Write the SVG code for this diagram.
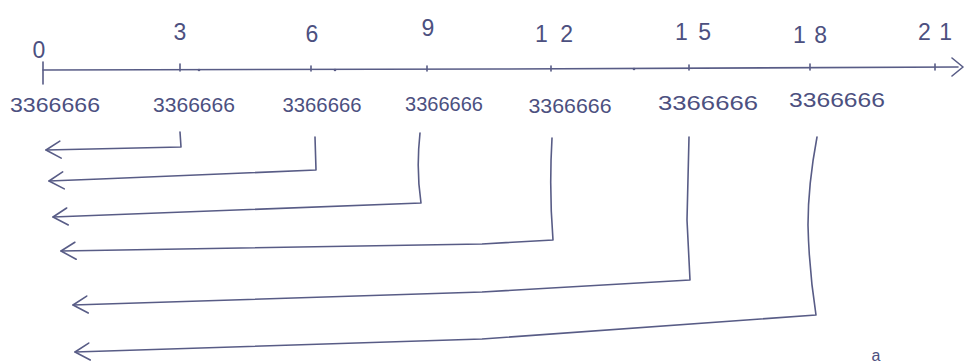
<svg xmlns="http://www.w3.org/2000/svg" width="964" height="363" viewBox="0 0 964 363">
<style>
.pen{fill:none;stroke:#585c86;stroke-width:1.6;stroke-linecap:round;stroke-linejoin:round}
.lbl{font-family:"Liberation Sans","DejaVu Sans",sans-serif;font-size:21px;fill:#4c5080;text-anchor:middle}
.top{font-size:23px}
.dot{fill:#585c86}
</style>
<defs>
<marker id="head" viewBox="0 0 17 19" refX="16" refY="9.5" markerWidth="17" markerHeight="19" markerUnits="userSpaceOnUse" orient="auto">
<path d="M1,1 L16,9.5 L2,18" fill="none" stroke="#585c86" stroke-width="1.6" stroke-linecap="round" stroke-linejoin="round"/>
</marker>
</defs>
<rect width="964" height="363" fill="#ffffff"/>
<g id="axis">
<path class="pen" d="M43,70 L500,69 L958,67"/>
<path class="pen" d="M43,62 L43,84"/>
<path class="pen" d="M952,58 L963,67 L952,76"/>
<path class="pen" d="M180,64 L180,71"/>
<path class="pen" d="M311,66 L311,71"/>
<path class="pen" d="M427,66 L427,71"/>
<path class="pen" d="M551,66 L551,71"/>
<path class="pen" d="M689,65 L689,70"/>
<path class="pen" d="M810,64 L810,70"/>
<path class="pen" d="M935,64 L935,70"/>
<circle class="dot" cx="199" cy="70" r="1.3"/>
<circle class="dot" cx="335" cy="70" r="1.3"/>
<circle class="dot" cx="634" cy="69" r="1.3"/>
</g>
<g id="tick-0"><text class="lbl top" x="39" y="58">0</text><text class="lbl" x="55" y="112" textLength="90" lengthAdjust="spacingAndGlyphs">3366666</text></g>
<g id="tick-3"><text class="lbl top" x="180" y="40">3</text><text class="lbl" x="194" y="112" textLength="82" lengthAdjust="spacingAndGlyphs">3366666</text></g>
<g id="tick-6"><text class="lbl top" x="312" y="42">6</text><text class="lbl" x="322" y="112" textLength="79" lengthAdjust="spacingAndGlyphs">3366666</text></g>
<g id="tick-9"><text class="lbl top" x="428" y="36">9</text><text class="lbl" x="444" y="111" textLength="78" lengthAdjust="spacingAndGlyphs">3366666</text></g>
<g id="tick-12"><text class="lbl top" x="554" y="42" textLength="38" lengthAdjust="spacing">12</text><text class="lbl" x="570" y="113" textLength="83" lengthAdjust="spacingAndGlyphs">3366666</text></g>
<g id="tick-15"><text class="lbl top" x="693" y="40" textLength="36" lengthAdjust="spacing">15</text><text class="lbl" x="708" y="110" textLength="100" lengthAdjust="spacingAndGlyphs">3366666</text></g>
<g id="tick-18"><text class="lbl top" x="810" y="43" textLength="34" lengthAdjust="spacing">18</text><text class="lbl" x="837" y="107" textLength="96" lengthAdjust="spacingAndGlyphs">3366666</text></g>
<g id="tick-21"><text class="lbl top" x="935" y="40" textLength="34" lengthAdjust="spacing">21</text></g>
<g id="connectors">
<path class="pen" marker-end="url(#head)" d="M180,132 L181,147 L46,150"/>
<path class="pen" marker-end="url(#head)" d="M315,137 L316,170 L100,179 L49,181"/>
<path class="pen" marker-end="url(#head)" d="M420,133 Q416,170 421,203 L53,217"/>
<path class="pen" marker-end="url(#head)" d="M552,138 Q549,190 553,240 L482,244 L61,251"/>
<path class="pen" marker-end="url(#head)" d="M689,137 L687,220 L690,280 L482,292 L73,305"/>
<path class="pen" marker-end="url(#head)" d="M817,137 Q808,185 808,225 Q809,270 816,315 L482,339 L75,352"/>
</g>
<text x="876" y="361" style="font-family:'Liberation Sans',sans-serif;font-size:16px;fill:#4c5080;text-anchor:middle">a</text>
</svg>
